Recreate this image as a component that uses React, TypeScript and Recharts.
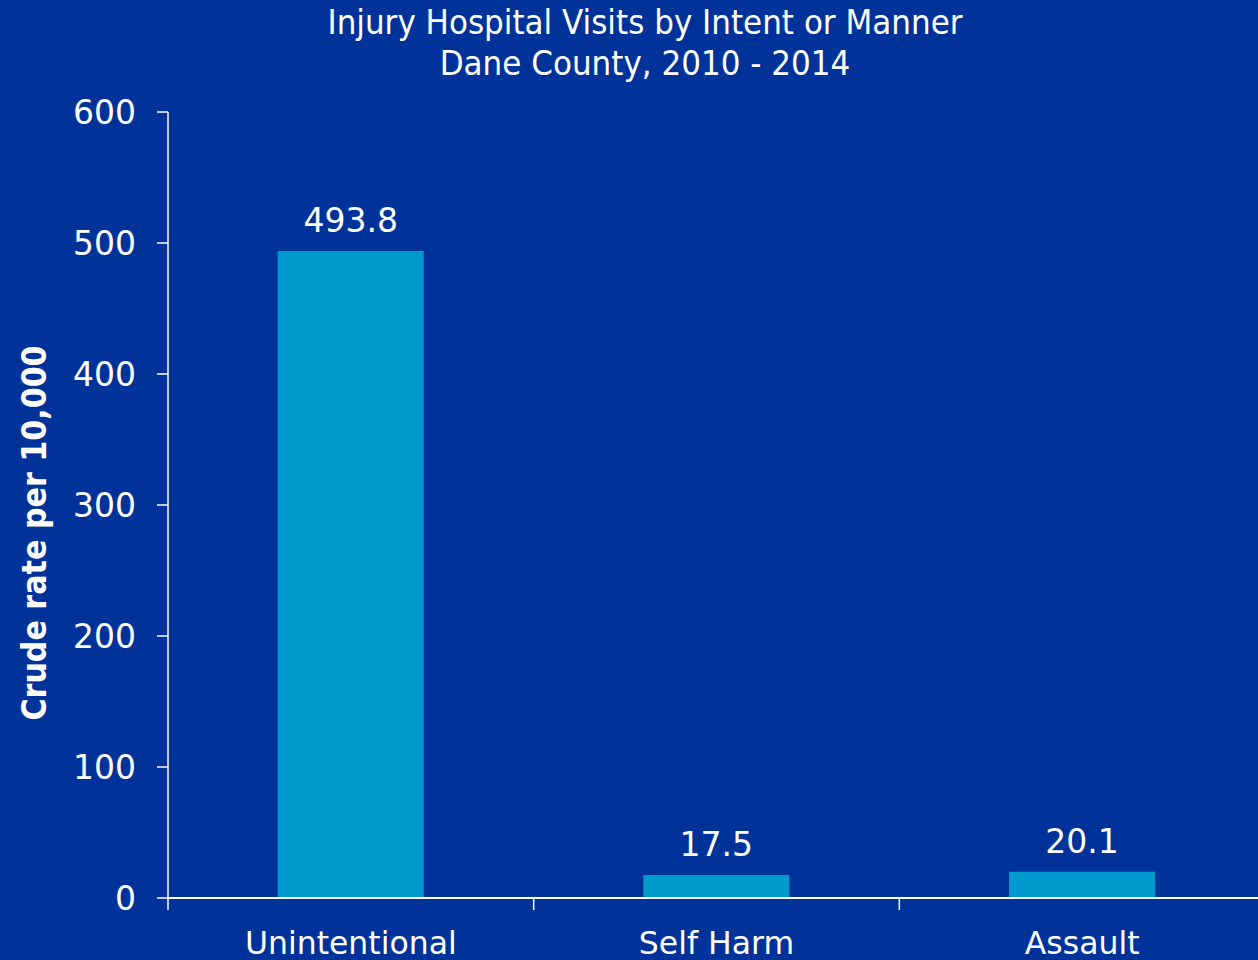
import React from 'react';
import { BarChart, Bar, XAxis, YAxis, LabelList } from 'recharts';

// Crude rate per 10,000, Dane County 2010 - 2014
const categories = ['Unintentional', 'Self Harm', 'Assault'];
const rates = [493.8, 17.5, 20.1];
const yTicks = [0, 100, 200, 300, 400, 500, 600];

const data = categories.map((name, i) => ({ name, rate: rates[i] }));

const BG = '#003399';
const BAR = '#009bcc';
const FONT = '"DejaVu Sans", sans-serif';
const CONDENSED = '"DejaVu Sans Condensed", "DejaVu Sans", sans-serif';
const TICK_GAP = 34;

// Excel-style category tick: label centred, tick marks on the band edges
const CategoryTick = (props: any) => {
  const { x, y, payload, index, visibleTicksCount } = props;
  const half = payload.offset || 0;
  const top = y - TICK_GAP;
  return (
    <g>
      <line x1={x - half} x2={x - half} y1={top} y2={top + 12} stroke="#fff" strokeWidth={1.5} />
      {index === visibleTicksCount - 1 && (
        <line x1={x + half} x2={x + half} y1={top} y2={top + 12} stroke="#fff" strokeWidth={1.5} />
      )}
      <text x={x} y={y} dy="0.71em" textAnchor="middle" fill="#fff" fontSize={31.5} fontFamily={FONT}>
        {payload.value}
      </text>
    </g>
  );
};

const YLabel = (props: any) => {
  const { viewBox } = props;
  const cx = 34;
  const cy = viewBox.y + viewBox.height / 2 + 28;
  return (
    <text
      x={cx}
      y={cy}
      transform={`rotate(-90, ${cx}, ${cy})`}
      textAnchor="middle"
      dominantBaseline="central"
      fill="#fff"
      fontFamily={CONDENSED}
      fontWeight="bold"
      fontSize={33.5}
    >
      Crude rate per 10,000
    </text>
  );
};

const App = () => {
  return (
    <div
      style={{
        position: 'absolute',
        left: 0,
        top: 0,
        width: 1258,
        height: 960,
        overflow: 'hidden',
        background: BG,
      }}
    >
      <div
        style={{
          position: 'absolute',
          top: 2,
          left: 0,
          width: 1290,
          textAlign: 'center',
          color: '#fff',
          fontFamily: CONDENSED,
          fontSize: 34.5,
          lineHeight: '41px',
        }}
      >
        Injury Hospital Visits by Intent or Manner
        <br />
        Dane County, 2010 - 2014
      </div>
      <BarChart
        width={1265}
        height={960}
        data={data}
        margin={{ top: 112, right: 0, left: 0, bottom: 0 }}
        barCategoryGap="30%"
        style={{ position: 'absolute', left: 0, top: 0 }}
      >
        <XAxis
          dataKey="name"
          height={62}
          axisLine={{ stroke: '#fff', strokeWidth: 2 }}
          tickLine={false}
          tickSize={0}
          tickMargin={TICK_GAP}
          tick={<CategoryTick />}
          interval={0}
        />
        <YAxis
          width={168}
          domain={[0, 600]}
          ticks={yTicks}
          interval={0}
          tickSize={11}
          tickMargin={21}
          axisLine={{ stroke: '#fff', strokeWidth: 1.5 }}
          tickLine={{ stroke: '#fff', strokeWidth: 1.5 }}
          tick={{ fill: '#fff', fontSize: 33, fontFamily: FONT }}
          label={<YLabel />}
        />
        <Bar dataKey="rate" fill={BAR} isAnimationActive={false}>
          <LabelList
            dataKey="rate"
            position="top"
            offset={19}
            fill="#fff"
            fontSize={33}
            fontFamily={FONT}
            formatter={(v: any) => Number(v).toFixed(1)}
          />
        </Bar>
      </BarChart>
    </div>
  );
};

export default App;
